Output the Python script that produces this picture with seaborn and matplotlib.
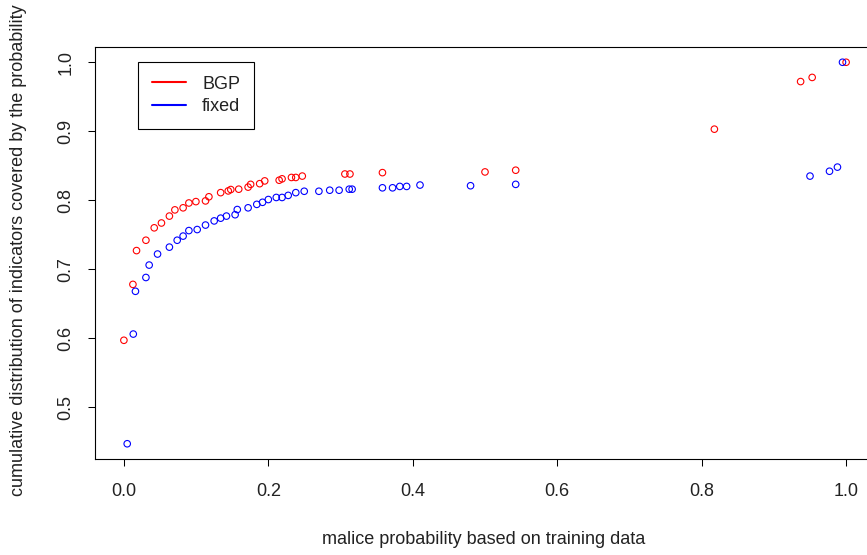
import matplotlib
matplotlib.use('Agg')
import matplotlib.pyplot as plt
import seaborn as sns
from matplotlib.lines import Line2D

# BGP series
bgp_x = [0.0, 0.0125, 0.0175, 0.0305, 0.042, 0.052, 0.063, 0.0706, 0.082, 0.090,
         0.0997, 0.113, 0.1177, 0.134, 0.1445, 0.148, 0.159, 0.172, 0.1755, 0.188,
         0.195, 0.215, 0.219, 0.232, 0.238, 0.247, 0.306, 0.313, 0.358, 0.500,
         0.5425, 0.8176, 0.937, 0.953, 1.0]
bgp_y = [0.597, 0.678, 0.727, 0.742, 0.760, 0.767, 0.777, 0.786, 0.789, 0.796,
         0.798, 0.799, 0.805, 0.811, 0.8135, 0.8155, 0.816, 0.819, 0.823, 0.824,
         0.828, 0.829, 0.831, 0.833, 0.833, 0.835, 0.838, 0.838, 0.840, 0.841,
         0.8435, 0.903, 0.972, 0.978, 1.0]

# fixed series
fixed_x = [0.0046, 0.013, 0.016, 0.0305, 0.035, 0.0466, 0.063, 0.0738, 0.082, 0.090,
           0.1015, 0.113, 0.125, 0.134, 0.142, 0.154, 0.157, 0.172, 0.184, 0.192,
           0.200, 0.211, 0.219, 0.2275, 0.238, 0.2497, 0.270, 0.285, 0.298, 0.312,
           0.316, 0.358, 0.372, 0.382, 0.3915, 0.41, 0.480, 0.5425, 0.950, 0.977,
           0.988, 0.995]
fixed_y = [0.447, 0.606, 0.668, 0.688, 0.706, 0.722, 0.732, 0.742, 0.748, 0.756,
           0.7575, 0.764, 0.770, 0.774, 0.777, 0.779, 0.7865, 0.789, 0.794, 0.797,
           0.801, 0.804, 0.804, 0.807, 0.811, 0.813, 0.813, 0.8145, 0.8145, 0.816,
           0.816, 0.818, 0.818, 0.820, 0.820, 0.822, 0.821, 0.823, 0.835, 0.842,
           0.848, 1.0]

x_ticks = [0.0, 0.2, 0.4, 0.6, 0.8, 1.0]
x_tick_labels = ["0.0", "0.2", "0.4", "0.6", "0.8", "1.0"]
y_ticks = [0.5, 0.6, 0.7, 0.8, 0.9, 1.0]
y_tick_labels = ["0.5", "0.6", "0.7", "0.8", "0.9", "1.0"]
series_names = ["BGP", "fixed"]
series_colors = ["#ff0000", "#0000ff"]

sns.set_theme(style='white')
plt.rcParams['font.family'] = ['Liberation Sans', 'DejaVu Sans']

FS = 13
W, H = 867, 555
fig = plt.figure(figsize=(W / 100, H / 100), dpi=100)
ax = fig.add_axes([95 / W, (H - 459) / H, 780 / W, 412 / H])

for xs, ys, c in [(bgp_x, bgp_y, series_colors[0]), (fixed_x, fixed_y, series_colors[1])]:
    sns.scatterplot(x=xs, y=ys, ax=ax, marker='o', s=22, color=c,
                    facecolor='none', edgecolor=c, linewidth=0.8, zorder=3)

ax.set_xlim(-0.04, 1.04)
ax.set_ylim(0.4249, 1.0221)
ax.set_xticks(x_ticks)
ax.set_xticklabels(x_tick_labels)
ax.set_yticks(y_ticks)
ax.set_yticklabels(y_tick_labels, rotation=90, va='center')
ax.tick_params(axis='both', direction='out', length=5, width=0.75, color='black',
               labelsize=FS, labelcolor='#222222', bottom=True, left=True)
ax.tick_params(axis='x', pad=12)
ax.tick_params(axis='y', pad=10)
for sp in ax.spines.values():
    sp.set_visible(True)
    sp.set_color('black')
    sp.set_linewidth(0.8)

fig.text(484 / W, 1 - 539 / H, "malice probability based on training data",
         ha='center', va='center', fontsize=FS, color='#222222')
fig.text(19 / W, 1 - 250 / H, "cumulative distribution of indicators covered by the probability",
         ha='center', va='center', rotation=90, fontsize=FS, color='#222222')

handles = [Line2D([], [], color=c, lw=1.5) for c in series_colors]
leg = ax.legend(handles=handles, labels=series_names, loc='upper left',
                bbox_to_anchor=((138 - 95) / 780, (459 - 62) / 412), borderaxespad=0,
                fancybox=False, edgecolor='black', framealpha=1, fontsize=FS,
                handlelength=1.9, handletextpad=0.9, labelspacing=0.3, borderpad=0.75)
leg.get_frame().set_linewidth(0.8)
for t in leg.get_texts():
    t.set_color('#222222')

fig.savefig('out.png', dpi=100)
